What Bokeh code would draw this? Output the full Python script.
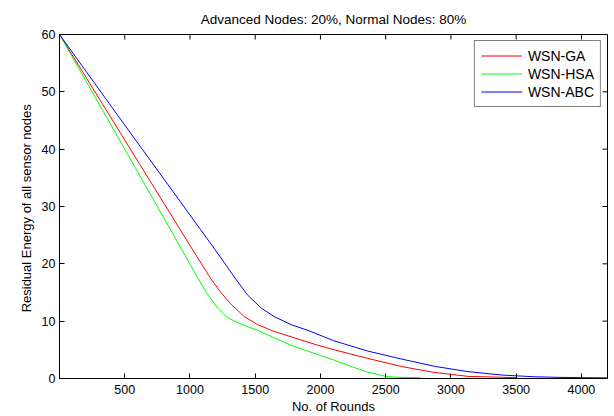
import math
from bokeh.plotting import figure
from bokeh.models import Range1d, LinearAxis, FixedTicker, Legend, LegendItem, Title
from bokeh.embed import file_html
from bokeh.resources import INLINE

# ---- data ----
rounds_ga = [0, 500, 1000, 1160, 1237, 1313, 1416, 1518, 1646, 1826, 1980, 2107, 2363, 2619, 2875, 3131, 3500]
energy_ga = [60, 41.6, 23.2, 17.4, 15.0, 13.0, 10.8, 9.4, 8.2, 6.9, 5.8, 5.0, 3.5, 2.1, 1.05, 0.37, 0.15]

rounds_hsa = [0, 500, 930, 1058, 1134, 1211, 1288, 1390, 1518, 1646, 1774, 1900, 2000, 2107, 2235, 2363, 2504, 2600, 2765]
energy_hsa = [60, 40.0, 22.8, 17.6, 14.7, 12.3, 10.6, 9.5, 8.4, 7.1, 5.8, 4.8, 4.0, 3.2, 2.1, 1.1, 0.35, 0.2, 0.15]

rounds_abc = [0, 500, 800, 1080, 1185, 1260, 1340, 1440, 1545, 1645, 1775, 1915, 2100, 2360, 2620, 2880, 3130, 3390, 3640, 3820, 4200]
energy_abc = [60, 44.2, 34.8, 26.0, 22.7, 20.3, 17.7, 14.6, 12.3, 10.8, 9.4, 8.3, 6.6, 4.8, 3.4, 2.1, 1.2, 0.6, 0.3, 0.2, 0.1]

x_ticks = [500, 1000, 1500, 2000, 2500, 3000, 3500, 4000]
y_ticks = [0, 10, 20, 30, 40, 50, 60]
x_max = 4200
y_max = 60

series_names = ["WSN-GA", "WSN-HSA", "WSN-ABC"]
series_colors = ["#ff0000", "#00ff00", "#0000ff"]

title_text = "Advanced Nodes: 20%, Normal Nodes: 80%"
x_label = "No. of Rounds"
y_label = "Residual Energy  of all sensor nodes"

FONT = "Liberation Sans"

p = figure(width=614, height=416, output_backend="svg", toolbar_location=None,
           x_range=Range1d(0, x_max), y_range=Range1d(0, y_max),
           x_axis_location=None, y_axis_location=None,
           min_border_left=59, min_border_right=7, min_border_top=34, min_border_bottom=37)
p.background_fill_color = "white"
p.border_fill_color = "white"
p.outline_line_color = "black"
p.outline_line_width = 1
p.xgrid.visible = False
p.ygrid.visible = False

p.add_layout(Title(text=title_text, align="center", text_font=FONT, text_font_size="13.5px",
                   text_font_style="normal", text_color="black", standoff=15), "above")


def style_axis(ax):
    ax.axis_line_color = "black"
    ax.major_tick_in = 5
    ax.major_tick_out = 0
    ax.major_tick_line_color = "black"
    ax.minor_tick_line_color = None
    ax.major_label_text_font = FONT
    ax.major_label_text_font_size = "12.5px"
    ax.major_label_text_color = "black"
    ax.axis_label_text_font = FONT
    ax.axis_label_text_font_style = "normal"
    ax.axis_label_text_font_size = "13px"
    ax.axis_label_text_color = "black"


xb = LinearAxis(ticker=FixedTicker(ticks=x_ticks), axis_label=x_label)
style_axis(xb)
xb.major_label_standoff = 6
xb.axis_label_standoff = 2
p.add_layout(xb, "below")

yl = LinearAxis(ticker=FixedTicker(ticks=y_ticks), axis_label=y_label)
style_axis(yl)
yl.major_label_standoff = 4
yl.axis_label_standoff = 5
p.add_layout(yl, "left")

# inward ticks on the top and right edges of the box (half of each dash is clipped away)
p.scatter(x_ticks, [y_max] * len(x_ticks), marker="dash", size=10, angle=math.pi / 2,
          line_color="black", line_width=1)
p.scatter([x_max] * (len(y_ticks) - 2), y_ticks[1:-1], marker="dash", size=10,
          line_color="black", line_width=1)

xs = [rounds_ga, rounds_hsa, rounds_abc]
ys = [energy_ga, energy_hsa, energy_abc]
items = []
for name, color, xv, yv in zip(series_names, series_colors, xs, ys):
    r = p.line(xv, yv, line_color=color, line_width=1)
    items.append(LegendItem(label=name, renderers=[r]))

legend = Legend(items=items, location="top_right", margin=6, padding=6, spacing=1,
                glyph_width=41, glyph_height=17, label_height=17, label_standoff=6,
                label_text_font=FONT, label_text_font_size="14px", label_text_color="black",
                border_line_color="black", border_line_width=1, background_fill_color="white",
                background_fill_alpha=1)
p.add_layout(legend)

open("out.html", "w").write(file_html(p, INLINE))
